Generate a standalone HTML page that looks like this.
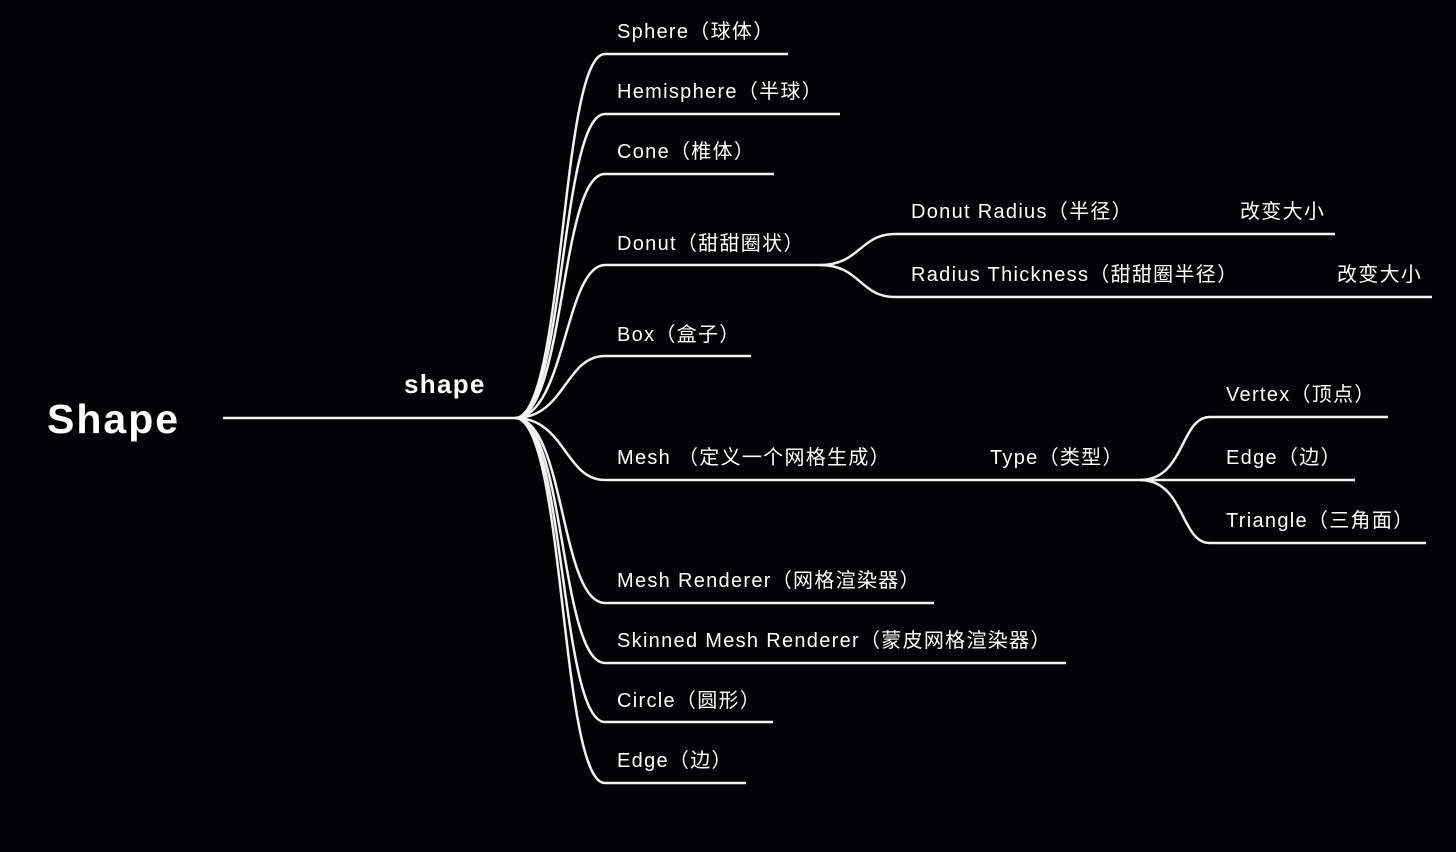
<!DOCTYPE html>
<html><head><meta charset="utf-8"><style>
html,body{margin:0;padding:0;background:#000;}
svg{display:block}
text{font-family:"Liberation Sans","Noto Sans CJK SC",sans-serif;fill:#fff;}
.l{font-size:20px;letter-spacing:1.3px}
</style></head><body>
<svg width="1456" height="852" viewBox="0 0 1456 852">
<rect width="1456" height="852" fill="#020103"/>
<g fill="none" stroke="#f2f2f2" stroke-width="2.5">
<path d="M223 418 H515"/>
<path d="M515 418 C565 418 560 54 605 54 H788"/>
<path d="M515 418 C565 418 560 114 605 114 H840"/>
<path d="M515 418 C565 418 560 174 605 174 H774"/>
<path d="M515 418 C565 418 565 265 605 265 H820"/>
<path d="M515 418 C565 418 565 356 605 356 H751"/>
<path d="M515 418 C565 418 565 480 605 480 H1140"/>
<path d="M515 418 C565 418 560 603 605 603 H934"/>
<path d="M515 418 C565 418 560 663 605 663 H1066"/>
<path d="M515 418 C565 418 560 722 605 722 H773"/>
<path d="M515 418 C565 418 560 783 605 783 H746"/>
<path d="M820 265 C860 265 860 234 895 234 H1335"/>
<path d="M820 265 C860 265 860 297 895 297 H1432"/>
<path d="M1140 480 C1185 480 1180 417 1210 417 H1388"/>
<path d="M1140 480 H1355"/>
<path d="M1140 480 C1185 480 1180 543 1210 543 H1426"/>
</g>
<text x="47" y="433" font-size="41" font-weight="bold" letter-spacing="2">Shape</text>
<text x="404" y="393" font-size="26" font-weight="bold" letter-spacing="1.3">shape</text>
<text class="l" x="617" y="38">Sphere（球体）</text>
<text class="l" x="617" y="98">Hemisphere（半球）</text>
<text class="l" x="617" y="158">Cone（椎体）</text>
<text class="l" x="617" y="250">Donut（甜甜圈状）</text>
<text class="l" x="617" y="341">Box（盒子）</text>
<text class="l" x="617" y="464">Mesh （定义一个网格生成）</text>
<text class="l" x="990" y="464">Type（类型）</text>
<text class="l" x="617" y="587">Mesh Renderer（网格渲染器）</text>
<text class="l" x="617" y="647">Skinned Mesh Renderer（蒙皮网格渲染器）</text>
<text class="l" x="617" y="707">Circle（圆形）</text>
<text class="l" x="617" y="767">Edge（边）</text>
<text class="l" x="911" y="218">Donut Radius（半径）</text>
<text class="l" x="1240" y="218">改变大小</text>
<text class="l" x="911" y="281">Radius Thickness（甜甜圈半径）</text>
<text class="l" x="1337" y="281">改变大小</text>
<text class="l" x="1226" y="401">Vertex（顶点）</text>
<text class="l" x="1226" y="464">Edge（边）</text>
<text class="l" x="1226" y="527">Triangle（三角面）</text>
</svg>
</body></html>
